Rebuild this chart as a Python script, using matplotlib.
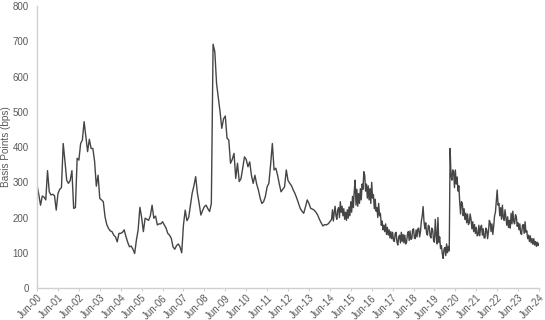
import numpy as np
import matplotlib
matplotlib.use("Agg")
import matplotlib.pyplot as plt

# Monthly spreads, Jun-2000 .. Jun-2014
monthly_2000_2014 = [
    292, 265, 235, 261, 258, 250, 333,                                  # 2000 Jun-Dec
    273, 264, 266, 262, 221, 268, 280, 285, 410, 360, 306, 297,         # 2001
    305, 333, 226, 228, 368, 363, 410, 420, 472, 430, 387, 422,         # 2002
    396, 396, 360, 289, 320, 254, 250, 245, 202, 180, 169, 162,         # 2003
    160, 150, 145, 131, 155, 155, 158, 165, 146, 130, 117, 119,         # 2004
    110, 98, 136, 165, 229, 200, 160, 198, 195, 192, 205, 235,          # 2005
    198, 204, 179, 182, 182, 188, 179, 170, 155, 150, 141, 117,         # 2006
    110, 120, 125, 117, 100, 179, 221, 191, 200, 235, 269, 290,         # 2007
    316, 269, 240, 207, 220, 231, 235, 225, 217, 240, 692, 670,         # 2008
    580, 540, 500, 453, 480, 488, 425, 420, 354, 365, 382, 311,         # 2009
    354, 302, 310, 340, 372, 365, 344, 358, 320, 297, 320, 295,         # 2010
    278, 255, 240, 245, 260, 287, 297, 350, 410, 335, 340, 320,         # 2011
    295, 273, 280, 287, 335, 305, 297, 290, 278, 268, 255, 240,         # 2012
    226, 218, 212, 230, 250, 240, 226, 224, 221, 215, 207, 195,         # 2013
    185, 176, 180, 179, 182, 188,                                       # 2014 Jan-Jun
]

# Semi-monthly spreads, Jul-2014 .. Jun-2024
semimonthly_2014_2024 = [
    195, 222, 190, 215, 232, 205, 195, 222, 228, 200, 245, 215,
    232, 205, 225, 195, 215, 192, 222, 198, 230, 205, 245, 215,
    260, 228, 275, 306, 235, 280, 232, 268, 240, 282, 250, 295,
    280, 330, 320, 275, 295, 255, 290, 250, 282, 240, 300, 255,
    265, 225, 252, 218, 228, 200, 240, 205, 212, 178, 190, 165,
    178, 160, 182, 152, 172, 150, 165, 142, 160, 140, 158, 135,
    132, 155, 158, 130, 122, 145, 150, 128, 158, 132, 152, 128,
    150, 125, 130, 152, 160, 135, 162, 138, 140, 165, 168, 142,
    140, 165, 145, 168, 170, 145, 160, 190, 205, 231, 190, 168,
    185, 155, 150, 178, 175, 148, 142, 170, 165, 135, 130, 195,
    150, 125, 200, 130, 145, 112, 120, 98, 84, 110, 115, 92,
    125, 100, 118, 105, 396, 320, 306, 335, 330, 285, 335, 295,
    315, 275, 290, 245, 210, 245, 240, 205, 225, 195, 212, 185,
    210, 180, 185, 210, 195, 168, 188, 160, 180, 155, 172, 148,
    150, 178, 148, 172, 178, 150, 168, 142, 142, 170, 165, 140,
    160, 192, 185, 160, 182, 152, 175, 205, 215, 248, 278, 235,
    240, 205, 228, 195, 235, 200, 192, 222, 200, 178, 202, 172,
    192, 170, 212, 182, 218, 188, 182, 208, 202, 175, 185, 165,
    182, 155, 152, 178, 180, 155, 188, 158, 162, 140, 150, 132,
    148, 128, 140, 124, 140, 122, 132, 118, 130, 120, 127, 120,
]

tick_labels = ["Jun-%02d" % (y % 100) for y in range(2000, 2025)]

# x positions in months since Jun-2000
x1 = np.arange(len(monthly_2000_2014), dtype=float)
x2 = x1[-1] + 1 + np.arange(len(semimonthly_2014_2024)) * 0.5
x = np.concatenate([x1, x2])
y = np.concatenate([monthly_2000_2014, semimonthly_2014_2024])

plt.rcParams['font.family'] = ['Liberation Sans', 'DejaVu Sans']
fig = plt.figure(figsize=(5.45, 3.2), dpi=100)
ax = fig.add_axes([0.068, 0.1, 0.921, 0.881])
ax.plot(x, y, color='#454545', lw=1.0)

ax.set_xlim(0, 288)
ax.set_ylim(0, 800)
ax.set_yticks(range(0, 801, 100))
ax.set_xticks(np.arange(0, 289, 12))
ax.set_xticklabels(tick_labels, rotation=45, ha='right', rotation_mode='anchor')
ax.tick_params(axis='y', colors='#595959', labelsize=7, length=0, pad=6)
ax.tick_params(axis='x', colors='#595959', labelsize=7, length=2,
               color='#d0d0d0', pad=1.5)
for s in ['top', 'right']:
    ax.spines[s].set_visible(False)
for s in ['left', 'bottom']:
    ax.spines[s].set_color('#d0d0d0')
    ax.spines[s].set_linewidth(1.0)
ax.set_ylabel('Basis Points (bps)', color='#595959', fontsize=7.2)
ax.yaxis.set_label_coords(-0.052, 0.5)

fig.savefig('out.png', dpi=100)
